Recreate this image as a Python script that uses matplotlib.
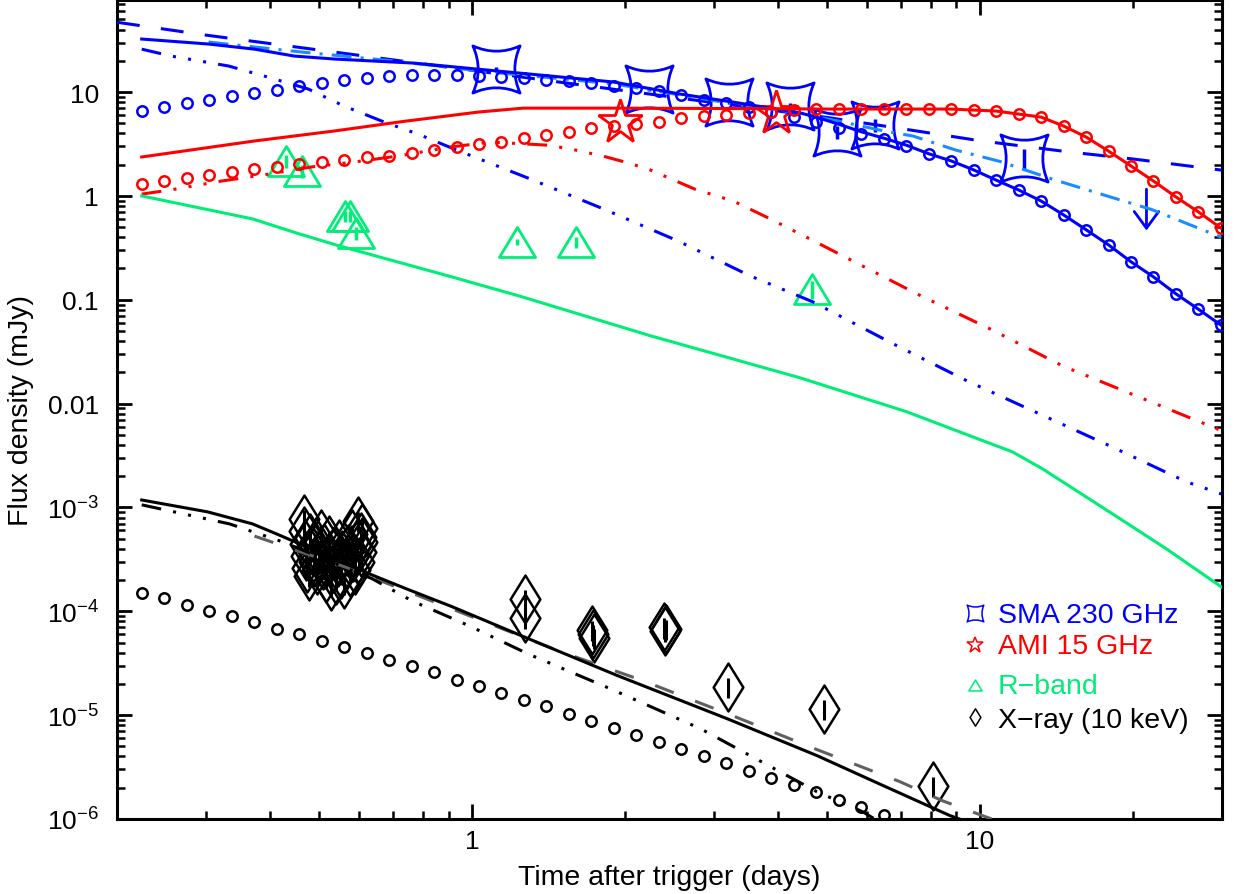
import numpy as np
import matplotlib
matplotlib.use('Agg')
import matplotlib.pyplot as plt
from matplotlib.path import Path
from matplotlib.markers import MarkerStyle
from matplotlib.ticker import FixedLocator, FixedFormatter, LogLocator, NullFormatter

plt.rcParams['font.family'] = ['Liberation Sans', 'DejaVu Sans']
plt.rcParams['mathtext.fontset'] = 'custom'
plt.rcParams['mathtext.rm'] = 'Liberation Sans'

# ---------------- data ----------------
# common model time grid (days) on which the circle-marked components are drawn
T_GRID = [0.2237, 0.2477, 0.2743, 0.3038, 0.3364, 0.3725, 0.4125, 0.4567, 0.5058, 0.5601,
          0.6202, 0.6868, 0.7605, 0.8421, 0.9325, 1.0325, 1.1433, 1.2661, 1.4020, 1.5524,
          1.7191, 1.9036, 2.1079, 2.3341, 2.5847, 2.8621, 3.1696, 3.5097, 3.8865, 4.3036,
          4.7655, 5.2772, 5.8434, 6.4706, 7.1652, 7.9342, 8.7854, 9.7275, 10.772, 11.928,
          13.209, 14.625, 16.195, 17.934, 19.861, 21.989, 24.350, 26.964, 29.864]

BLUE_CIRC = [6.56, 7.17, 7.84, 8.38, 9.16, 9.78, 10.45, 11.43, 12.21, 13.05,
             13.64, 14.26, 14.58, 14.58, 14.58, 14.26, 13.95, 13.64, 13.05, 12.76,
             12.21, 11.43, 10.93, 10.21, 9.35, 8.38, 7.84, 7.17, 6.42, 5.74,
             5.14, 4.50, 3.94, 3.53, 3.02, 2.53, 2.17, 1.78, 1.42, 1.14,
             0.893, 0.656, 0.472, 0.338, 0.232, 0.166, 0.114, 0.081, 0.057]

RED_CIRC = [1.30, 1.39, 1.49, 1.59, 1.70, 1.82, 1.90, 2.03, 2.12, 2.22,
            2.37, 2.42, 2.59, 2.77, 2.96, 3.16, 3.30, 3.61, 3.86, 4.12,
            4.50, 4.71, 4.92, 5.14, 5.62, 5.87, 6.01, 6.28, 6.42, 6.71,
            6.86, 6.86, 6.86, 6.86, 6.86, 6.86, 6.86, 6.71, 6.56, 6.14,
            5.74, 4.71, 3.69, 2.70, 1.94, 1.39, 0.976, 0.70, 0.49]

BLACK_CIRC = [1.51e-4, 1.35e-4, 1.16e-4, 1.01e-4, 9.06e-5, 7.93e-5, 6.79e-5, 6.08e-5, 5.20e-5, 4.56e-5,
              3.99e-5, 3.42e-5, 2.99e-5, 2.62e-5, 2.19e-5, 1.92e-5, 1.64e-5, 1.41e-5, 1.23e-5, 1.03e-5,
              8.84e-6, 7.57e-6, 6.48e-6, 5.54e-6, 4.75e-6, 4.06e-6, 3.48e-6, 2.92e-6, 2.50e-6, 2.14e-6,
              1.83e-6, 1.53e-6, 1.31e-6, 1.10e-6]

# 230 GHz model curves
BLUE_SOLID_T = [0.2237, 0.303, 0.373, 0.447, 0.536, 0.769, 1.03, 1.90, 2.57, 3.27, 4.43, 4.78, 5.28,
                5.84, 6.47, 7.17, 7.93, 8.79, 9.73, 10.77, 11.93, 13.21, 14.63, 16.20, 17.93, 19.86,
                21.99, 24.35, 26.96, 29.86]
BLUE_SOLID_F = [32.4, 29.0, 25.9, 22.2, 20.8, 19.0, 16.6, 12.5, 9.57, 8.0, 6.3, 5.7, 4.9,
                4.15, 3.6, 3.08, 2.55, 2.17, 1.78, 1.42, 1.14, 0.893, 0.656, 0.472, 0.338, 0.232,
                0.166, 0.114, 0.081, 0.057]
BLUE_DASH_T = [0.2, 0.3, 0.5, 0.7, 1.0, 1.5, 2.0, 3.0, 5.0, 7.0, 10.0, 15.0, 20.0, 30.0]
BLUE_DASH_F = [47.0, 35.3, 25.4, 20.4, 16.2, 12.4, 10.3, 7.9, 5.7, 4.45, 3.4, 2.65, 2.27, 1.77]
LBLUE_T = [0.303, 0.462, 0.703, 1.03, 1.90, 3.27, 4.29, 5.26, 6.48, 7.39, 9.0, 10.95, 13.9, 17.8,
           21.8, 29.9]
LBLUE_F = [30.3, 24.3, 19.9, 16.0, 12.0, 7.7, 6.42, 5.26, 4.22, 3.77, 2.75, 2.15, 1.45, 1.0,
           0.74, 0.40]
BLUE_DDD_T = [0.2237, 0.256, 0.332, 0.397, 0.476, 0.56, 0.672, 0.783, 0.922, 1.306, 1.817, 2.54,
              3.53, 4.69, 6.75, 9.43, 13.1, 18.2, 25.5, 29.9]
BLUE_DDD_F = [25.9, 22.2, 17.8, 13.9, 10.7, 7.33, 5.14, 3.94, 2.83, 1.45, 0.748, 0.370,
              0.170, 0.0955, 0.0377, 0.0166, 7.98e-3, 3.84e-3, 1.77e-3, 1.35e-3]

# 15 GHz model curves
RED_SOLID_T = [0.2237, 0.373, 0.536, 0.73, 1.03, 1.26, 1.90, 3.0, 4.30, 4.7655, 5.2772, 5.8434,
               6.4706, 7.1652, 7.9342, 8.7854, 9.7275, 10.772, 11.928, 13.209, 14.625, 16.195,
               17.934, 19.861, 21.989, 24.350, 26.964, 29.864]
RED_SOLID_F = [2.37, 3.38, 4.22, 5.2, 6.42, 7.0, 7.0, 6.95, 6.9, 6.86, 6.86, 6.86,
               6.86, 6.86, 6.86, 6.86, 6.71, 6.56, 6.14, 5.74, 4.71, 3.69,
               2.70, 1.94, 1.39, 0.976, 0.70, 0.49]
RED_DDD_T = [0.2237, 0.26, 0.321, 0.397, 0.483, 0.586, 0.715, 0.909, 1.09, 1.41, 1.565, 1.81,
             2.0, 2.22, 2.75, 3.27, 3.87, 4.63, 5.38, 7.52, 10.47, 14.55, 20.3, 29.9]
RED_DDD_F = [1.04, 1.16, 1.39, 1.62, 1.90, 2.12, 2.42, 2.96, 3.30, 3.08, 2.83, 2.42,
             2.12, 1.82, 1.16, 0.893, 0.60, 0.385, 0.264, 0.114, 0.0525, 0.0231, 0.0119, 5.5e-3]

# R-band model
GREEN_T = [0.2237, 0.370, 0.457, 0.548, 0.913, 1.237, 2.25, 4.43, 7.18, 9.68, 11.6, 13.3,
           18.0, 20.0, 23.3, 29.9]
GREEN_F = [1.0, 0.60, 0.431, 0.33, 0.166, 0.109, 0.0449, 0.0177, 8.35e-3, 4.79e-3, 3.43e-3,
           2.35e-3, 9.07e-4, 6.5e-4, 4.0e-4, 1.72e-4]

# X-ray models
BLACK_SOLID_T = [0.2237, 0.3015, 0.3696, 0.412, 0.627, 0.742, 0.913, 1.336, 1.936, 3.18, 4.78,
                 6.45, 8.73, 10.0]
BLACK_SOLID_F = [1.18e-3, 9.07e-4, 6.95e-4, 5.57e-4, 2.30e-4, 1.65e-4, 1.11e-4, 5.09e-5, 2.40e-5,
                 9.25e-6, 4.08e-6, 2.10e-6, 1.08e-6, 8.5e-7]
BLACK_DDD_T = [0.2237, 0.333, 0.4235, 0.636, 0.762, 0.987, 1.288, 1.876, 2.82, 3.53, 4.78, 5.89, 7.0]
BLACK_DDD_F = [1.06e-3, 6.95e-4, 4.67e-4, 2.06e-4, 1.26e-4, 7.26e-5, 3.90e-5, 1.79e-5, 7.40e-6,
               4.08e-6, 1.83e-6, 1.17e-6, 7.0e-7]
GRAY_T = [0.373, 0.568, 1.496, 2.17, 3.26, 4.78, 6.96, 8.44, 10.27, 11.0]
GRAY_F = [5.3e-4, 2.63e-4, 4.08e-5, 2.15e-5, 9.88e-6, 4.66e-6, 2.29e-6, 1.50e-6, 1.05e-6, 9.3e-7]

# observations
SMA_T = [1.115, 2.23, 3.21, 4.23, 5.24, 6.22, 12.25]
SMA_F = [16.6, 10.7, 8.0, 7.33, 4.12, 4.81, 2.32]
SMA_REL_ERR = [0.05, 0.05, 0.05, 0.08, 0.15, 0.15, 0.22]
SMA_UL_T = [21.3]
SMA_UL_F = [1.16]
AMI_T = [1.953, 3.97]
AMI_F = [5.14, 6.27]
RBAND_T = [0.431, 0.463, 0.563, 0.576, 0.592, 1.226, 1.601, 4.67]
RBAND_F = [2.17, 1.74, 0.641, 0.641, 0.44, 0.36, 0.36, 0.127]
RBAND_REL_ERR = [0.15, 0.15, 0.12, 0.12, 0.15, 0.07, 0.12, 0.2]
XRAY_T = [0.466, 0.468, 0.470, 0.472, 0.474, 0.477, 0.480, 0.484, 0.488, 0.492,
          0.496, 0.500, 0.504, 0.508, 0.512, 0.516, 0.520, 0.524, 0.528, 0.532,
          0.536, 0.540, 0.544, 0.548, 0.552, 0.556, 0.560, 0.565, 0.570, 0.575,
          0.580, 0.584, 0.588, 0.592, 0.596, 0.600, 0.604, 0.606, 0.607, 0.608,
          1.27, 1.27, 1.72, 1.73, 1.74, 2.39, 2.40, 2.41, 3.20, 4.94, 8.08]
XRAY_F = [7.8e-4, 5.9e-4, 4.4e-4, 3.4e-4, 2.6e-4, 2.2e-4, 5.1e-4, 3.9e-4, 3.0e-4, 4.6e-4,
          2.5e-4, 3.6e-4, 5.5e-4, 2.8e-4, 4.1e-4, 2.1e-4, 3.2e-4, 4.9e-4, 1.75e-4, 2.6e-4,
          3.8e-4, 2.0e-4, 3.0e-4, 4.4e-4, 2.3e-4, 3.5e-4, 1.85e-4, 2.8e-4, 4.0e-4, 2.4e-4,
          5.6e-4, 3.3e-4, 2.5e-4, 4.3e-4, 7.4e-4, 3.0e-4, 5.2e-4, 3.7e-4, 4.6e-4, 6.3e-4,
          1.32e-4, 8.7e-5, 6.6e-5, 6.0e-5, 5.5e-5, 7.0e-5, 6.5e-5, 6.8e-5, 1.88e-5, 1.15e-5, 2.09e-6]
XRAY_REL_ERR = 0.22

X_TICKS = [1, 10]
X_TICKLABELS = ['1', '10']
Y_TICKS = [1e-6, 1e-5, 1e-4, 1e-3, 0.01, 0.1, 1, 10]
Y_TICKLABELS = [r'$\mathregular{10^{-6}}$', r'$\mathregular{10^{-5}}$', r'$\mathregular{10^{-4}}$',
                r'$\mathregular{10^{-3}}$', '0.01', '0.1', '1', '10']

# ---------------- styles ----------------
BLUE = '#0000ff'
LBLUE = '#1a8cff'
RED = '#ff0000'
GREEN = '#00ee77'
BLACK = '#000000'
GRAY = '#606060'

LW = 2.2
DASH = (0, (7.5, 7))
GDASH = (0, (6.5, 7.5))
DASHDOT = (0, (6.5, 3, 1, 3))
DDD = (0, (6.5, 4, 1, 4, 1, 4, 1, 4))
FS_LABEL = 20.5
FS_TICK = 19

c = 0.55
SQ = Path([(-1, 1), (0, c), (1, 1), (c, 0), (1, -1), (0, -c), (-1, -1), (-c, 0), (-1, 1), (-1, 1)],
          [Path.MOVETO, Path.CURVE3, Path.CURVE3, Path.CURVE3, Path.CURVE3, Path.CURVE3,
           Path.CURVE3, Path.CURVE3, Path.CURVE3, Path.CLOSEPOLY])
TRI = Path([(-1, -0.83), (1, -0.83), (0, 0.83), (-1, -0.83)],
           [Path.MOVETO, Path.LINETO, Path.LINETO, Path.CLOSEPOLY])
DIA = Path([(0, 1), (0.62, 0), (0, -1), (-0.62, 0), (0, 1)],
           [Path.MOVETO, Path.LINETO, Path.LINETO, Path.LINETO, Path.CLOSEPOLY])
M_SQ = MarkerStyle(SQ, joinstyle='miter')
M_TRI = MarkerStyle(TRI, joinstyle='miter')
M_DIA = MarkerStyle(DIA, joinstyle='miter')

fig = plt.figure(figsize=(12.39, 8.95), dpi=100)
ax = fig.add_axes([117 / 1239, 75 / 895, 1105 / 1239, 819 / 895])
ax.set_xscale('log')
ax.set_yscale('log')
ax.set_xlim(0.2, 30)
ax.set_ylim(1e-6, 77)

# ---- observations ----
def errs(f, r):
    f = np.asarray(f)
    r = np.asarray(r)
    return np.vstack([f * r, f * r])

ax.errorbar(XRAY_T, XRAY_F, yerr=errs(XRAY_F, XRAY_REL_ERR), fmt='none', ecolor=BLACK,
            elinewidth=2.2, capsize=0, zorder=2)
ax.plot(XRAY_T, XRAY_F, ls='none', marker=M_DIA, ms=34.5, mfc='none', mec=BLACK, mew=1.8, zorder=2)

ax.errorbar(RBAND_T, RBAND_F, yerr=errs(RBAND_F, RBAND_REL_ERR), fmt='none', ecolor=GREEN,
            elinewidth=2.5, capsize=0, zorder=2)
ax.plot(RBAND_T, RBAND_F, ls='none', marker=M_TRI, ms=26, mfc='none', mec=GREEN, mew=2.0, zorder=2)

ax.errorbar(SMA_T, SMA_F, yerr=errs(SMA_F, SMA_REL_ERR), fmt='none', ecolor=BLUE,
            elinewidth=2.5, capsize=0, zorder=2)
ax.plot(SMA_T, SMA_F, ls='none', marker=M_SQ, ms=34, mfc='none', mec=BLUE, mew=2.0, zorder=2)
for t, f in zip(SMA_UL_T, SMA_UL_F):
    ax.annotate('', xy=(t, f * 0.4), xytext=(t, f),
                arrowprops=dict(arrowstyle='->,head_length=0.3,head_width=0.22', color=BLUE,
                                lw=2.0, mutation_scale=40, shrinkA=0, shrinkB=0), zorder=2)

ax.plot(AMI_T, AMI_F, ls='none', marker='*', ms=33, mfc='none', mec=RED, mew=2.0, zorder=2)

# ---- model curves ----
ax.plot(BLUE_DASH_T, BLUE_DASH_F, color=BLUE, lw=LW, ls=DASH, zorder=3)
ax.plot(LBLUE_T, LBLUE_F, color=LBLUE, lw=LW, ls=DASHDOT, zorder=3)
ax.plot(BLUE_DDD_T, BLUE_DDD_F, color=BLUE, lw=LW, ls=DDD, zorder=3)
ax.plot(BLUE_SOLID_T, BLUE_SOLID_F, color=BLUE, lw=LW, zorder=3)
ax.plot(T_GRID, BLUE_CIRC, ls='none', marker='o', ms=7.5, mfc='none', mec=BLUE, mew=1.8, zorder=3)

ax.plot(RED_DDD_T, RED_DDD_F, color=RED, lw=LW, ls=DDD, zorder=3)
ax.plot(RED_SOLID_T, RED_SOLID_F, color=RED, lw=LW, zorder=3)
ax.plot(T_GRID, RED_CIRC, ls='none', marker='o', ms=7.5, mfc='none', mec=RED, mew=1.8, zorder=3)

ax.plot(GREEN_T, GREEN_F, color=GREEN, lw=LW, zorder=3)

ax.plot(GRAY_T, GRAY_F, color=GRAY, lw=LW, ls=GDASH, zorder=3)
ax.plot(BLACK_DDD_T, BLACK_DDD_F, color=BLACK, lw=LW, ls=DDD, zorder=3)
ax.plot(BLACK_SOLID_T, BLACK_SOLID_F, color=BLACK, lw=LW, zorder=3)
ax.plot(T_GRID[:len(BLACK_CIRC)], BLACK_CIRC, ls='none', marker='o', ms=7.5, mfc='none',
        mec=BLACK, mew=1.8, zorder=3)

# ---- legend (manual, IDL style) ----
leg = [(M_SQ, 12, BLUE, 'SMA 230 GHz', 0.2518, 0.2408),
       ('*', 12, RED, 'AMI 15 GHz', 0.2127, 0.2029),
       (M_TRI, 9.5, GREEN, 'R\u2212band', 0.1638, 0.1540),
       (M_DIA, 12.5, BLACK, 'X\u2212ray (10 keV)', 0.1247, 0.1125)]
for m, ms, col, lab, ym, yt in leg:
    ax.plot([0.7766], [ym], transform=ax.transAxes, marker=m, ms=ms, mfc='none', mec=col,
            mew=1.1, ls='none', clip_on=False, zorder=4)
    ax.text(0.797, yt, lab, transform=ax.transAxes, color=col, fontsize=FS_LABEL,
            ha='left', va='baseline', zorder=4)

# ---- axes cosmetics ----
ax.xaxis.set_major_locator(FixedLocator(X_TICKS))
ax.xaxis.set_major_formatter(FixedFormatter(X_TICKLABELS))
ax.xaxis.set_minor_locator(LogLocator(base=10, subs=np.arange(2, 10)))
ax.xaxis.set_minor_formatter(NullFormatter())
ax.yaxis.set_major_locator(FixedLocator(Y_TICKS))
ax.yaxis.set_major_formatter(FixedFormatter(Y_TICKLABELS))
ax.yaxis.set_minor_locator(LogLocator(base=10, subs=np.arange(2, 10), numticks=20))
ax.yaxis.set_minor_formatter(NullFormatter())

for s in ax.spines.values():
    s.set_linewidth(2.2)
ax.tick_params(which='both', direction='in', top=True, right=True, colors='black')
ax.tick_params(which='major', length=11, width=2.0, labelsize=FS_TICK)
ax.tick_params(axis='y', which='major', pad=13)
ax.tick_params(axis='x', which='major', pad=7)
ax.tick_params(which='minor', length=5.5, width=1.8)

ax.set_xlabel('Time after trigger (days)', fontsize=FS_LABEL, labelpad=8)
ax.set_ylabel('Flux density (mJy)', fontsize=FS_LABEL, labelpad=9)

fig.savefig('out.png', dpi=100)
